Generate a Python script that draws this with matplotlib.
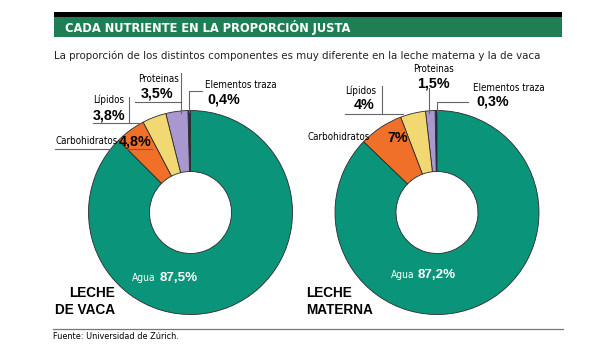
import matplotlib.pyplot as plt
from matplotlib.patches import Rectangle

# data
componentes = ['Elementos traza', 'Proteinas', 'Lípidos', 'Carbohidratos', 'Agua']
vaca = [0.4, 3.5, 3.8, 4.8, 87.5]
materna = [0.3, 1.5, 4.0, 7.0, 87.2]
etiquetas_vaca = ['0,4%', '3,5%', '3,8%', '4,8%', '87,5%']
etiquetas_materna = ['0,3%', '1,5%', '4%', '7%', '87,2%']

colores = ['#1c2b6e', '#a898cf', '#f2d872', '#f0702a', '#0a957a']
H = 346
COND = dict(family='DejaVu Sans', fontstretch='condensed')
BOLD = dict(family='Liberation Sans', fontweight='bold')


def Y(y):
    return H - y


fig = plt.figure(figsize=(6.14, 3.46), dpi=100)
ax = fig.add_axes([0, 0, 1, 1])

# title bar
ax.add_patch(Rectangle((54, Y(36.7)), 508, 19.4, color='#1e7f55', lw=0))
ax.add_patch(Rectangle((54, Y(17.3)), 508, 5, color='black', lw=0))
ax.text(65, Y(27.5), 'CADA NUTRIENTE EN LA PROPORCIÓN JUSTA', color='white',
        fontsize=9.2, fontweight='bold', va='center', **COND)
ax.text(54, Y(56), 'La proporción de los distintos componentes es muy diferente en la leche materna y la de vaca',
        fontsize=8.2, va='center', color='#222222', **COND)

# donuts
for vals, cx in [(vaca, 190.5), (materna, 437)]:
    ax.pie(vals, colors=colores, startangle=90, counterclock=True,
           center=(cx, Y(212.5)), radius=102, frame=True,
           wedgeprops=dict(width=61, edgecolor='#2a2a2a', linewidth=0.6))
ax.set_xlim(0, 614)
ax.set_ylim(0, H)
ax.set_aspect('equal')
ax.axis('off')

lc = '#666666'
lw = 0.8
fs_name = 7.0
fs_val = 10.3

# left donut labels
ax.text(138, Y(79), componentes[1], fontsize=fs_name, va='center', **COND)
ax.text(141, Y(94), etiquetas_vaca[1], fontsize=fs_val, va='center', **BOLD)
ax.plot([181, 181], [Y(73), Y(113)], color=lc, lw=lw)
ax.plot([135, 181], [Y(102), Y(102)], color=lc, lw=lw)

ax.text(205, Y(85), componentes[0], fontsize=fs_name, va='center', **COND)
ax.text(207, Y(100), etiquetas_vaca[0], fontsize=fs_val, va='center', **BOLD)
ax.plot([189, 189, 202], [Y(112), Y(91), Y(91)], color=lc, lw=lw)

ax.text(93, Y(100), componentes[2], fontsize=fs_name, va='center', **COND)
ax.text(93, Y(115), etiquetas_vaca[2], fontsize=fs_val, va='center', **BOLD)
ax.plot([129, 129], [Y(97), Y(123)], color=lc, lw=lw)
ax.plot([93, 143], [Y(123), Y(123)], color=lc, lw=lw)

ax.text(55, Y(141), componentes[3], fontsize=fs_name, va='center', **COND)
ax.text(119, Y(141), etiquetas_vaca[3], fontsize=fs_val, va='center', **BOLD)
ax.plot([55, 152], [Y(149), Y(149)], color=lc, lw=lw)

# right donut labels
ax.text(413, Y(69), componentes[1], fontsize=fs_name, va='center', **COND)
ax.text(417, Y(83), etiquetas_materna[1], fontsize=fs_val, va='center', **BOLD)
ax.plot([429, 429], [Y(88), Y(113)], color=lc, lw=lw)

ax.text(473, Y(88), componentes[0], fontsize=fs_name, va='center', **COND)
ax.text(476, Y(102), etiquetas_materna[0], fontsize=fs_val, va='center', **BOLD)
ax.plot([437, 437, 468], [Y(112), Y(102), Y(102)], color=lc, lw=lw)

ax.text(345, Y(91), componentes[2], fontsize=fs_name, va='center', **COND)
ax.text(375, Y(105), etiquetas_materna[2], fontsize=fs_val, va='center', ha='right', **BOLD)
ax.plot([382, 382], [Y(86), Y(114)], color=lc, lw=lw)
ax.plot([345, 403], [Y(114), Y(114)], color=lc, lw=lw)

ax.text(308, Y(137), componentes[3], fontsize=fs_name, va='center', **COND)
ax.text(387, Y(138), etiquetas_materna[3], fontsize=fs_val, va='center', **BOLD)

# water labels
for x, xv, y, v in [(132, 160, 278, etiquetas_vaca[4]), (391, 418, 275, etiquetas_materna[4])]:
    ax.text(x, Y(y), componentes[4], fontsize=7.3, color='white', va='center', **COND)
    ax.text(xv, Y(y), v, fontsize=9.6, color='white', va='center', **BOLD)

ax.text(115, Y(301.5), 'LECHE\nDE VACA', fontsize=9.8, ha='right', va='center', linespacing=1.2, **BOLD)
ax.text(306, Y(301.5), 'LECHE\nMATERNA', fontsize=9.8, ha='left', va='center', linespacing=1.2, **BOLD)

# footer
ax.plot([53, 563], [Y(329), Y(329)], color='#777777', lw=0.9)
ax.text(53, Y(336.5), 'Fuente: Universidad de Zúrich.', fontsize=6.5, va='center', **COND)

fig.savefig('out.png', dpi=100)
